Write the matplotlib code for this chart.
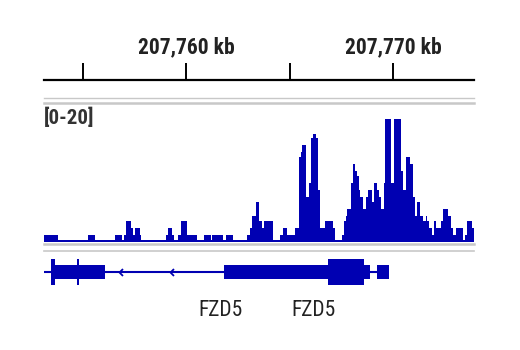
import numpy as np
import matplotlib
matplotlib.use('Agg')
import matplotlib.pyplot as plt
from matplotlib.patches import Rectangle
from matplotlib import font_manager as fm

# igv style view of one ChIP-seq track over FZD5
origin_kb = 207760
view_kb = (-6.86, 13.91)          # offsets from origin, kb
ruler_ticks = [-5, 0, 5, 10]
ruler_labels = {0: '207,760 kb', 10: '207,770 kb'}
track_range = '[0-20]'
track_max = 20

# coverage, as steps: edges (kb offsets) and the value of each step
cov_edges = [-6.86, -6.18, -4.72, -4.40, -3.43, -3.11, -3.00, -2.90, -2.67, -2.55,
             -2.48, -2.22, -2.19, -0.97, -0.87, -0.68, -0.58, -0.39, -0.23, 0.06,
             0.52, 0.87, 1.19, 1.26, 1.80, 1.93, 2.26, 2.93, 3.09, 3.19,
             3.38, 3.51, 3.67, 3.77, 4.19, 4.54, 4.70, 4.86, 5.27, 5.46,
             5.56, 5.62, 5.80, 5.94, 6.04, 6.15, 6.27, 6.36, 6.49, 6.73,
             7.09, 7.21, 7.54, 7.65, 7.74, 7.78, 7.97, 8.08, 8.18, 8.26,
             8.34, 8.42, 8.54, 8.70, 8.79, 8.99, 9.10, 9.23, 9.31, 9.41,
             9.57, 9.61, 9.90, 10.03, 10.37, 10.48, 10.61, 10.84, 10.95, 11.08,
             11.17, 11.29, 11.46, 11.59, 11.66, 11.75, 11.87, 11.98, 12.08, 12.30,
             12.43, 12.66, 12.79, 12.91, 13.03, 13.37, 13.48, 13.59, 13.82, 13.91]
cov_values = [1, 0.3, 1, 0.3, 1, 0.3, 1, 3, 2, 1,
              2, 1, 0.3, 1, 2, 1, 0.3, 1, 3, 1,
              0.3, 1, 0.3, 1, 0.3, 1, 0.3, 1, 2, 3.7,
              5.7, 3, 2, 3, 0.3, 1, 2, 1, 2, 12.1,
              12.8, 13.9, 6.4, 8.4, 14.9, 15.5, 14.9, 7.4, 2, 3,
              2, 0.3, 1, 3, 3.7, 4.7, 8.4, 11.1, 10.1, 9.5,
              7.4, 6.4, 4.7, 6.4, 7.4, 5.7, 8.4, 7.4, 6.4, 4.7,
              8.4, 17.6, 8.4, 17.6, 10.1, 7.4, 12.1, 11.1, 6.4, 3.7,
              5.7, 3.7, 3, 3.7, 3, 2, 1, 3, 2, 3,
              4.7, 3.7, 2, 1, 2, 0.3, 1, 3, 2]

# gene model (collapsed transcripts)
gene_line = (-6.86, 9.23)
utr_blocks = [(-6.52, -3.91), (1.84, 8.89), (9.24, 9.81)]
cds_blocks = [(-6.52, -6.33), (-5.28, -5.18), (6.88, 8.62)]
strand_marks = [-3.24, -0.75]
gene_names = ['FZD5', 'FZD5']
gene_name_pos = [1.67, 6.18]

blue = '#0000b2'
grey = '#c8c8c8'
txt = '#222222'


def narrow_font(bold, size):
    # look for a narrow sans face, like the one the browser uses
    order = ['liberation sans narrow', 'roboto condensed', 'noto sans',
             'open sans', 'dejavu sans']
    want = 700 if bold else 400
    best, best_score = None, None
    for f in fm.fontManager.ttflist:
        nm = f.name.lower()
        st = str(f.stretch).lower()
        if 'mono' in nm or ('serif' in nm and 'sans' not in nm) or f.style != 'normal':
            continue
        if not ('narrow' in nm or 'condensed' in nm or st in ('condensed', 'semi-condensed')):
            continue
        rank = next((i for i, o in enumerate(order) if nm.startswith(o)), len(order))
        w = f.weight if isinstance(f.weight, int) else (700 if 'bold' in str(f.weight) else 400)
        score = rank * 1000 + abs(w - want) + (0 if 'semi' not in st else 50)
        if best_score is None or score < best_score:
            best, best_score = f, score
    if best is None:
        return fm.FontProperties(family='Liberation Sans',
                                 weight='bold' if bold else 'normal', size=size * 0.82)
    return fm.FontProperties(fname=best.fname, size=size)


W, H = 520, 350
fig = plt.figure(figsize=(W / 100, H / 100), dpi=100)
x0 = origin_kb + view_kb[0]
x1 = origin_kb + view_kb[1]


def box(left, top, right, bottom):
    return [left / W, 1 - bottom / H, (right - left) / W, (bottom - top) / H]


# separators
bg = fig.add_axes([0, 0, 1, 1])
bg.set_xlim(0, W)
bg.set_ylim(H, 0)
bg.axis('off')
bg.plot([44, 474], [97.5, 97.5], color=grey, lw=1.0)
bg.plot([44, 474], [102.5, 102.5], color=grey, lw=1.8)
bg.plot([44, 474], [244, 244], color=grey, lw=1.8)
bg.plot([44, 474], [251, 251], color=grey, lw=1.2)

# ruler
ax_r = fig.add_axes(box(44, 30, 474, 80))
ax_r.set_xlim(x0, x1)
ax_r.set_ylim(0, 1)
for s in ['top', 'left', 'right']:
    ax_r.spines[s].set_visible(False)
ax_r.spines['bottom'].set_linewidth(1.6)
ax_r.spines['bottom'].set_color('black')
ax_r.set_xticks([origin_kb + t for t in ruler_ticks])
ax_r.tick_params(axis='x', direction='in', length=12, width=1.4, labelbottom=False)
ax_r.set_yticks([])
for k, lab in ruler_labels.items():
    ax_r.text(origin_kb + k, 0.53, lab, ha='center', va='baseline',
              fontproperties=narrow_font(True, 15.5), color=txt)

# coverage track
ax_s = fig.add_axes(box(44, 102, 474, 242))
ax_s.stairs(cov_values, origin_kb + np.array(cov_edges), fill=True, color=blue, lw=0)
ax_s.set_xlim(x0, x1)
ax_s.set_ylim(0, track_max)
ax_s.axis('off')
ax_s.text(0.0, 0.96, track_range, transform=ax_s.transAxes, ha='left', va='top',
          fontproperties=narrow_font(True, 15), color='#333333')

# gene track, y in pixels around the intron line
ax_g = fig.add_axes(box(44, 252, 474, 330))
ax_g.set_xlim(x0, x1)
ax_g.set_ylim(-58, 20)
ax_g.axis('off')
ax_g.plot([origin_kb + gene_line[0], origin_kb + gene_line[1]], [0, 0], color=blue, lw=1.5,
          solid_capstyle='butt')
for a, b in utr_blocks:
    ax_g.add_patch(Rectangle((origin_kb + a, -6.6), b - a, 13.2, color=blue, lw=0))
for a, b in cds_blocks:
    ax_g.add_patch(Rectangle((origin_kb + a, -12.6), b - a, 25.2, color=blue, lw=0))
chevron = [(1, 1), (0, 0), (1, -1)]
ax_g.plot([origin_kb + m for m in strand_marks], [0] * len(strand_marks), ls='none',
          marker=chevron, markersize=5, fillstyle='none', markeredgecolor=blue, markeredgewidth=1.3)
for name, p in zip(gene_names, gene_name_pos):
    ax_g.text(origin_kb + p, -39, name, ha='center', va='center',
              fontproperties=narrow_font(False, 15.5), color=txt)

fig.savefig('out.png', dpi=100)
